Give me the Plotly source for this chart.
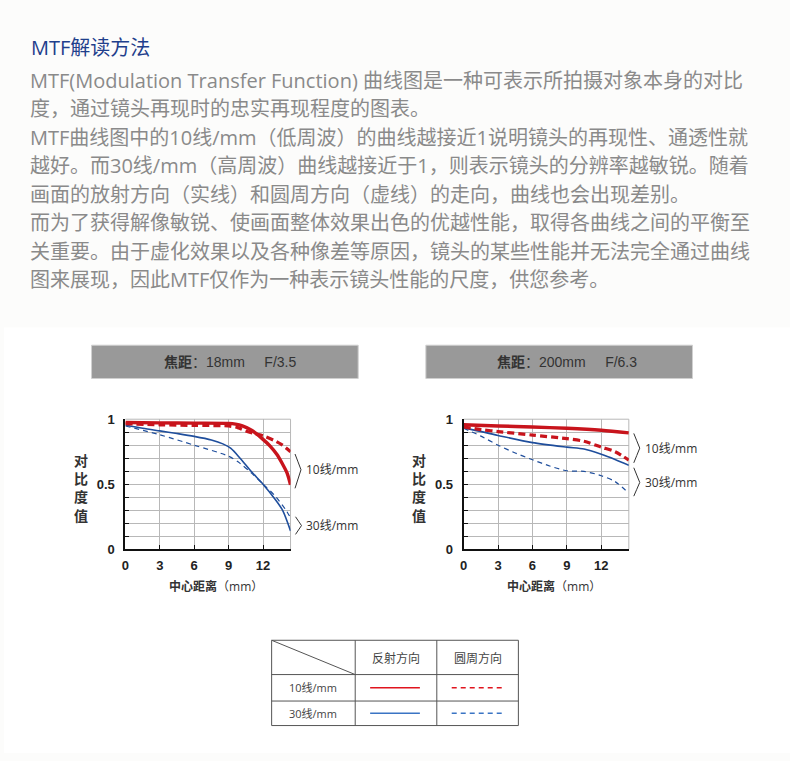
import plotly.graph_objects as go

# ---------------- data ----------------
TITLE = "MTF解读方法"
PARAGRAPH = [
    "MTF(Modulation Transfer Function) 曲线图是一种可表示所拍摄对象本身的对比",
    "度，通过镜头再现时的忠实再现程度的图表。",
    "MTF曲线图中的10线/mm（低周波）的曲线越接近1说明镜头的再现性、通透性就",
    "越好。而30线/mm（高周波）曲线越接近于1，则表示镜头的分辨率越敏锐。随着",
    "画面的放射方向（实线）和圆周方向（虚线）的走向，曲线也会出现差别。",
    "而为了获得解像敏锐、使画面整体效果出色的优越性能，取得各曲线之间的平衡至",
    "关重要。由于虚化效果以及各种像差等原因，镜头的某些性能并无法完全通过曲线",
    "图来展现，因此MTF仅作为一种表示镜头性能的尺度，供您参考。",
]
CHART_FOCAL = ["18mm", "200mm"]
CHART_APERTURE = ["F/3.5", "F/6.3"]
Y_TITLE = "对<br>比<br>度<br>值"
X_TICKS = [0, 3, 6, 9, 12]
Y_TICKS = [0, 0.1, 0.2, 0.3, 0.4, 0.5, 0.6, 0.7, 0.8, 0.9, 1.0]
Y_TICK_TEXT = ["0", "", "", "", "", "0.5", "", "", "", "", "1"]
X_MAX = 14.4
SERIES_LABELS = ["10线/mm", "30线/mm"]
DIRECTIONS = ["反射方向", "圆周方向"]

# chart 1 : 18mm F/3.5
c1_red_solid_x = [0, 3, 6, 9, 9.6, 10.2, 11, 12, 12.6, 13.2, 13.7, 14.1, 14.4]
c1_red_solid_y = [0.975, 0.972, 0.97, 0.968, 0.962, 0.948, 0.915, 0.845, 0.795, 0.73, 0.655, 0.585, 0.495]
c1_red_dash_x = [0, 3, 6, 9, 9.8, 10.5, 11.2, 12, 13, 13.7, 14.4]
c1_red_dash_y = [0.965, 0.957, 0.952, 0.948, 0.935, 0.91, 0.89, 0.872, 0.835, 0.8, 0.75]
c1_blue_solid_x = [0, 1.5, 3, 4.5, 6, 7.5, 8.5, 9.2, 10, 11, 12, 13, 13.7, 14.4]
c1_blue_solid_y = [0.955, 0.93, 0.91, 0.89, 0.868, 0.84, 0.81, 0.775, 0.7, 0.595, 0.5, 0.39, 0.3, 0.14]
c1_blue_dash_x = [0, 3, 6, 9, 10, 11, 12, 13, 14, 14.4]
c1_blue_dash_y = [0.948, 0.88, 0.8, 0.715, 0.66, 0.585, 0.5, 0.415, 0.3, 0.24]

# chart 2 : 200mm F/6.3
c2_red_solid_x = [0, 3, 6, 9, 12, 14.4]
c2_red_solid_y = [0.957, 0.948, 0.94, 0.93, 0.915, 0.895]
c2_red_dash_x = [0, 1.5, 3, 6, 9, 10.5, 12, 13.2, 14.4]
c2_red_dash_y = [0.94, 0.92, 0.905, 0.878, 0.85, 0.83, 0.785, 0.75, 0.685]
c2_blue_solid_x = [0, 3, 6, 9, 10.5, 12, 13.2, 14.4]
c2_blue_solid_y = [0.935, 0.875, 0.82, 0.785, 0.77, 0.73, 0.69, 0.645]
c2_blue_dash_x = [0, 1.5, 3, 4.5, 6, 7.5, 9, 10.5, 12, 13.2, 14.4]
c2_blue_dash_y = [0.93, 0.87, 0.80, 0.74, 0.688, 0.64, 0.603, 0.598, 0.565, 0.52, 0.43]

# ---------------- layout helpers ----------------
W, H = 790, 761


def fx(px):
    return px / W


def fy(py):
    return 1 - py / H


RED = "#c8141c"
BLUE = "#1f4e9c"
GRID = "#b8b8b8"
CJK = "Open Sans, Noto Sans CJK SC, sans-serif"
ARIAL = "Arial, Liberation Sans, Noto Sans CJK SC, sans-serif"

fig = go.Figure()

charts = [
    ("x", "y", 122, [
        (c1_blue_dash_x, c1_blue_dash_y, BLUE, 1.2, "5px,4px"),
        (c1_blue_solid_x, c1_blue_solid_y, BLUE, 1.6, "solid"),
        (c1_red_dash_x, c1_red_dash_y, RED, 3.2, "7px,4px"),
        (c1_red_solid_x, c1_red_solid_y, RED, 3.4, "solid"),
    ]),
    ("x2", "y2", 462, [
        (c2_blue_dash_x, c2_blue_dash_y, BLUE, 1.2, "5px,4px"),
        (c2_blue_solid_x, c2_blue_solid_y, BLUE, 1.6, "solid"),
        (c2_red_dash_x, c2_red_dash_y, RED, 3.2, "7px,4px"),
        (c2_red_solid_x, c2_red_solid_y, RED, 3.4, "solid"),
    ]),
]

for xa, ya, _, series in charts:
    for xs, ys, col, w, dash in series:
        fig.add_trace(go.Scatter(
            x=xs, y=ys, xaxis=xa, yaxis=ya, mode="lines",
            line=dict(color=col, width=w, dash=dash, shape="spline", smoothing=0.8),
            showlegend=False, hoverinfo="skip", cliponaxis=False,
        ))

PLOT_W = 166
Y_TOP, Y_BOT = 420.5, 553

axis_common = dict(
    showline=True, linecolor="#111", linewidth=2, mirror=False,
    showgrid=True, gridcolor=GRID, gridwidth=1, zeroline=False,
    ticks="inside", ticklen=4, tickcolor="#111", tickwidth=1.2,
    tickfont=dict(family=ARIAL, size=13, color="#222"),
    fixedrange=True,
)

layout_axes = {}
for i, (xa, ya, left, _) in enumerate(charts):
    xname = "xaxis" if i == 0 else "xaxis2"
    yname = "yaxis" if i == 0 else "yaxis2"
    layout_axes[xname] = dict(
        axis_common, domain=[fx(left), fx(left + PLOT_W)], range=[0, X_MAX],
        tickvals=X_TICKS, ticktext=[f"<b>{v}</b>" for v in X_TICKS],
        anchor=ya, ticklabelstandoff=3,
    )
    layout_axes[yname] = dict(
        axis_common, domain=[fy(Y_BOT), fy(Y_TOP)], range=[0, 1],
        tickvals=Y_TICKS, ticktext=[f"<b>{t}</b>" if t else "" for t in Y_TICK_TEXT],
        anchor=xa, ticklabelstandoff=6,
    )

shapes = []
annotations = []

# page background: white lower section
shapes.append(dict(type="rect", xref="paper", yref="paper", x0=0, x1=1,
                   y0=0, y1=fy(327), fillcolor="#ffffff", line=dict(width=0), layer="below"))

# title + paragraph
annotations.append(dict(text=TITLE, xref="paper", yref="paper", x=fx(25), y=fy(41),
                        xanchor="left", yanchor="middle", showarrow=False,
                        font=dict(family=CJK, size=20, color="#1f3f8c")))
for i, line in enumerate(PARAGRAPH):
    annotations.append(dict(text=line, xref="paper", yref="paper", x=fx(24), y=fy(74.5 + 29.1 * i),
                            xanchor="left", yanchor="middle", showarrow=False,
                            font=dict(family=CJK, size=20, color="#8a8a8a")))

# chart header boxes
boxes = [(88, 356, 159), (424, 692, 493)]
for (bx0, bx1, tx), foc, ap in zip(boxes, CHART_FOCAL, CHART_APERTURE):
    shapes.append(dict(type="rect", xref="paper", yref="paper", x0=fx(bx0), x1=fx(bx1),
                       y0=fy(379), y1=fy(345), fillcolor="#999999",
                       line=dict(color="#d0d0d0", width=1), layer="below"))
    annotations.append(dict(text=f"<b>焦距</b>：{foc}\u00a0\u00a0\u00a0\u00a0 {ap}",
                            xref="paper", yref="paper", x=fx(tx), y=fy(362),
                            xanchor="left", yanchor="middle", showarrow=False,
                            font=dict(family=ARIAL, size=14, color="#333333")))

# frame (top & right gray lines), axis titles for each chart
for i, (xa, ya, left, _) in enumerate(charts):
    xd = f"{xa} domain"
    yd = f"{ya} domain"
    shapes.append(dict(type="line", xref=xd, yref=yd, x0=1, x1=1, y0=0, y1=1,
                       line=dict(color=GRID, width=1), layer="below"))
    shapes.append(dict(type="line", xref=xd, yref=yd, x0=0, x1=1, y0=1, y1=1,
                       line=dict(color=GRID, width=1), layer="below"))
    annotations.append(dict(text=f"<b>{Y_TITLE}</b>", xref="paper", yref="paper",
                            x=fx(left - 45), y=fy(491), xanchor="center", yanchor="middle",
                            showarrow=False, font=dict(family=CJK, size=14, color="#333333")))
    annotations.append(dict(text="<b>中心距离</b>（mm）", xref="paper", yref="paper",
                            x=fx(left + 91), y=fy(591), xanchor="center", yanchor="middle",
                            showarrow=False, font=dict(family=CJK, size=12, color="#333333")))

# brackets and series labels beside the charts
bracket_specs = [
    # (x_left, y_top, y_tip, y_bottom, label)
    (292.5, 456, 472, 491, SERIES_LABELS[0]),
    (293, 520, 529, 538, SERIES_LABELS[1]),
    (633, 435, 450, 465, SERIES_LABELS[0]),
    (633, 470, 485, 499, SERIES_LABELS[1]),
]
for bx, yt, ym, yb, lab in bracket_specs:
    path = (f"M {fx(bx)},{fy(yt)} Q {fx(bx + 3)},{fy((yt + ym) / 2)} {fx(bx + 6)},{fy(ym)} "
            f"Q {fx(bx + 3)},{fy((ym + yb) / 2)} {fx(bx)},{fy(yb)}")
    shapes.append(dict(type="path", xref="paper", yref="paper", path=path,
                       line=dict(color="#333333", width=1)))
    annotations.append(dict(text=lab, xref="paper", yref="paper", x=fx(bx + 9), y=fy(ym),
                            xanchor="left", yanchor="middle", showarrow=False,
                            font=dict(family=CJK, size=12, color="#333333")))

# legend table
TL, TR = 269, 517
TT, TB = 646, 733
C1, C2 = 353, 435
R1, R2 = 681, 708
tbl = dict(color="#555555", width=1)
shapes.append(dict(type="rect", xref="paper", yref="paper", x0=fx(TL), x1=fx(TR), y0=fy(TB), y1=fy(TT),
                   line=tbl))
for cx in (C1, C2):
    shapes.append(dict(type="line", xref="paper", yref="paper", x0=fx(cx), x1=fx(cx), y0=fy(TB), y1=fy(TT), line=tbl))
for ry in (R1, R2):
    shapes.append(dict(type="line", xref="paper", yref="paper", x0=fx(TL), x1=fx(TR), y0=fy(ry), y1=fy(ry), line=tbl))
shapes.append(dict(type="line", xref="paper", yref="paper", x0=fx(TL), x1=fx(C1), y0=fy(TT), y1=fy(R1), line=tbl))

for lab, cx in zip(DIRECTIONS, ((C1 + C2) / 2, (C2 + TR) / 2)):
    annotations.append(dict(text=lab, xref="paper", yref="paper", x=fx(cx), y=fy((TT + R1) / 2 + 1),
                            xanchor="center", yanchor="middle", showarrow=False,
                            font=dict(family=CJK, size=12, color="#444444")))
LEG_RED, LEG_BLUE = "#e0141e", "#3a74c4"
for lab, ry, col in zip(SERIES_LABELS, ((R1 + R2) / 2, (R2 + TB) / 2), (LEG_RED, LEG_BLUE)):
    annotations.append(dict(text=lab, xref="paper", yref="paper", x=fx((TL + C1) / 2), y=fy(ry),
                            xanchor="center", yanchor="middle", showarrow=False,
                            font=dict(family=CJK, size=11, color="#444444")))
    shapes.append(dict(type="line", xref="paper", yref="paper", x0=fx(368), x1=fx(418), y0=fy(ry), y1=fy(ry),
                       line=dict(color=col, width=1.5)))
    shapes.append(dict(type="line", xref="paper", yref="paper", x0=fx(450), x1=fx(501), y0=fy(ry), y1=fy(ry),
                       line=dict(color=col, width=1.5, dash="5px,4px")))

fig.update_layout(
    width=W, height=H, autosize=False,
    margin=dict(l=0, r=0, t=0, b=0, pad=0),
    paper_bgcolor="#fcfcfb", plot_bgcolor="rgba(0,0,0,0)",
    showlegend=False,
    shapes=shapes, annotations=annotations,
    **layout_axes,
)

fig.write_html("out.html", config={"displayModeBar": False})
